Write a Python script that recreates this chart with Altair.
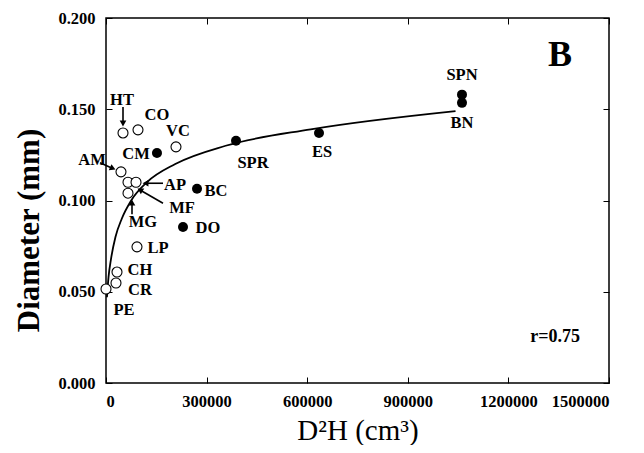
import math
import altair as alt
import pandas as pd

# ---- data ----
names = ["HT", "CO", "VC", "CM", "AM", "MF", "AP", "MG", "BC", "DO",
         "LP", "CH", "CR", "PE", "SPR", "ES", "SPN", "BN"]
d2h = [50700, 95400, 208700, 152000, 44700, 65600, 89500, 65600, 271400, 229600,
       92400, 32800, 29800, 0, 387700, 635200, 1061600, 1061600]
diam = [0.137, 0.1387, 0.1294, 0.126, 0.1157, 0.110, 0.110, 0.104, 0.1064, 0.0855,
        0.0746, 0.0608, 0.0548, 0.0515, 0.1327, 0.137, 0.158, 0.1535]
filled = [False, False, False, True, False, False, False, False, True, True,
          False, False, False, False, True, True, True, True]

curve_x = [2800, 7500, 15000, 28200, 47000, 75100, 122000, 206600, 356800, 610400, 1042300]
curve_y = [0.047, 0.058, 0.068, 0.080, 0.090, 0.100, 0.110, 0.120, 0.130, 0.139, 0.149]

x_ticks = [0, 300000, 600000, 900000, 1200000, 1500000]
y_ticks = [0.0, 0.05, 0.10, 0.15, 0.20]

panel_letter = "B"
r_text = "r=0.75"
annot_x = [1354000, 1339000]
annot_y = [0.1797, 0.0252]

# ---- layout / style (pixel offsets for labels and arrows) ----
label_off = {
    "HT": (-1, -33), "CO": (19, -15), "VC": (2, -16), "CM": (-21, 1),
    "AM": (-29, -12), "AP": (39, 3), "MF": (54, 26), "MG": (15, 29),
    "BC": (19, 2), "DO": (25, 1), "LP": (21, 1), "CH": (23, -2),
    "CR": (24, 7), "PE": (18, 21), "SPR": (17, 22), "ES": (3, 19),
    "SPN": (0, -20), "BN": (0, 20),
}
arrows = {  # anchor name: (tip offset, tail offset)
    "HT": ((0, -6), (0, -26)),
    "AM": ((-5, -2), (-21, -9)),
    "AP": ((6, 1), (27, 1)),
    "MF": ((9, 6), (35, 21)),
    "MG": ((4, 6), (4, 21)),
}

FONT = "Liberation Serif"

df = pd.DataFrame({"name": names, "x": d2h, "y": diam, "filled": filled})
curve = pd.DataFrame({"x": curve_x, "y": curve_y})
annot = pd.DataFrame({"x": annot_x, "y": annot_y, "t": [panel_letter, r_text]})

xs = alt.Scale(domain=[0, 1500000], nice=False)
ys = alt.Scale(domain=[0, 0.2], nice=False)

x_axis = alt.Axis(values=x_ticks, format="d", domain=False, tickSize=6, offset=-6,
                  labelPadding=10, labelFont=FONT, labelFontSize=16.5, labelFontWeight="bold",
                  labelColor="black", tickColor="black", grid=False,
                  title="D²H (cm³)", titleFont=FONT, titleFontSize=29,
                  titleFontWeight="normal", titleColor="black", titlePadding=7)
y_axis = alt.Axis(values=y_ticks, format=".3f", domain=False, tickSize=6, offset=-6,
                  labelPadding=11, labelFont=FONT, labelFontSize=16.5, labelFontWeight="bold",
                  labelColor="black", tickColor="black", grid=False,
                  title="Diameter (mm)", titleFont=FONT, titleFontSize=31,
                  titleFontWeight="bold", titleColor="black", titlePadding=12,
                  titleY=212)

X = alt.X("x:Q", scale=xs, axis=x_axis)
Y = alt.Y("y:Q", scale=ys, axis=y_axis)
Xn = alt.X("x:Q", scale=xs, axis=None)
Yn = alt.Y("y:Q", scale=ys, axis=None)

line = alt.Chart(curve).mark_line(color="black", strokeWidth=1.8,
                                  interpolate="monotone").encode(x=X, y=Y)

# mirrored inward ticks on top and right
mirror = alt.Chart(curve).mark_line(opacity=0).encode(
    x=alt.X("x:Q", scale=xs, axis=alt.Axis(orient="top", values=x_ticks, labels=False,
                                           domain=False, tickSize=6, offset=-6,
                                           tickColor="black", title=None, grid=False)),
    y=alt.Y("y:Q", scale=ys, axis=alt.Axis(orient="right", values=y_ticks, labels=False,
                                           domain=False, tickSize=6, offset=-6,
                                           tickColor="black", title=None, grid=False)),
)

open_pts = alt.Chart(df).transform_filter("!datum.filled").mark_point(
    shape="circle", size=100, filled=True, fill="white", stroke="black", strokeWidth=1.1,
    opacity=1).encode(x=Xn, y=Yn)
fill_pts = alt.Chart(df).transform_filter("datum.filled").mark_point(
    shape="circle", size=100, filled=True, color="black", opacity=1).encode(x=Xn, y=Yn)

layers = [line, mirror]

# arrows
for nm, (tip, tail) in arrows.items():
    base = alt.Chart(df).transform_filter(alt.datum.name == nm)
    vx, vy = tip[0] - tail[0], tip[1] - tail[1]
    L = math.hypot(vx, vy)
    ux, uy = vx / L, vy / L
    head_c = (tip[0] - ux * 3.5, tip[1] - uy * 3.5)
    rule = base.mark_rule(color="black", strokeWidth=1.6,
                          xOffset=head_c[0], yOffset=head_c[1],
                          x2Offset=tail[0], y2Offset=tail[1]).encode(
        x=Xn, y=Yn, x2="x:Q", y2="y:Q")
    ang = (math.degrees(math.atan2(vx, -vy)) + 360) % 360
    head = base.mark_point(shape="triangle-up", size=45, filled=True, color="black",
                           opacity=1, angle=ang, xOffset=head_c[0],
                           yOffset=head_c[1]).encode(x=Xn, y=Yn)
    layers += [rule, head]

layers += [open_pts, fill_pts]

for nm, (dx, dy) in label_off.items():
    t = alt.Chart(df).transform_filter(alt.datum.name == nm).mark_text(
        font=FONT, fontSize=16.5, fontWeight="bold", color="black",
        align="center", baseline="middle", dx=dx, dy=dy).encode(
        x=Xn, y=Yn, text="name:N")
    layers.append(t)

letter = alt.Chart(annot).transform_filter(alt.datum.t == panel_letter).mark_text(
    font=FONT, fontSize=36, fontWeight="bold", color="black").encode(
    x=Xn, y=Yn, text="t:N")
rlab = alt.Chart(annot).transform_filter(alt.datum.t == r_text).mark_text(
    font=FONT, fontSize=18, fontWeight="bold", color="black").encode(
    x=Xn, y=Yn, text="t:N")
layers += [letter, rlab]

chart = alt.layer(*layers).resolve_axis(x="independent", y="independent").properties(
    width=503, height=365, autosize="none",
    padding={"left": 98, "top": 10, "right": 25, "bottom": 62},
    background="white",
).configure_view(stroke="black", strokeWidth=1.5)

chart.save("out.html", embed_options={"renderer": "svg", "actions": False})
